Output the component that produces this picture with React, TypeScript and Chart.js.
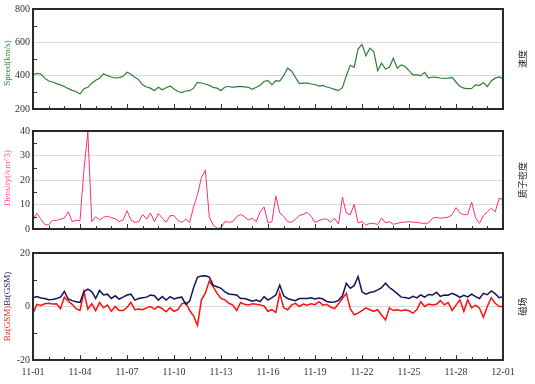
import React, { useEffect, useRef } from "react";
import { Chart, registerables } from "chart.js";
Chart.register(...registerables);

// x axis: days since 11-01, 4 samples per day
const pointsPerDay = 4;
const totalDays = 30;
const dateLabels = ["11-01", "11-04", "11-07", "11-10", "11-13", "11-16", "11-19", "11-22", "11-25", "11-28", "12-01"];

const speed = [
  406, 414, 410, 385, 368, 362, 352, 345, 335, 322, 312, 305, 290, 322, 330, 355,
  372, 385, 412, 400, 392, 386, 388, 396, 420, 408, 390, 375, 345, 332, 325, 310,
  330, 315, 328, 338, 320, 305, 298, 308, 310, 325, 360, 356, 350, 342, 330, 325,
  310, 332, 335, 330, 334, 336, 333, 330, 318, 330, 342, 365, 372, 345, 370, 368,
  400, 445, 428, 390, 352, 355, 355, 350, 347, 337, 342, 332, 326, 318, 310, 328,
  400, 462, 450, 560, 588, 520, 565, 545, 430, 475, 440, 450, 505, 445, 465, 455,
  430, 405, 405, 400, 420, 385, 392, 390, 386, 383, 385, 390, 362, 335, 325, 322,
  324, 345, 342, 358, 335, 368, 385, 392, 382,
];

const density = [
  3.7, 6.4, 4, 1.9, 1.6, 3.5, 3.5, 4, 4.5, 7, 3, 3.6, 3.4, 24, 39.5, 3,
  5, 3.7, 4.8, 5.2, 4.6, 4.2, 3, 3.7, 7.5, 3.7, 2.7, 3, 6, 4, 6.5, 3,
  6.4, 4.4, 2.8, 5.4, 5.5, 3.5, 2.7, 4, 2.7, 9, 14, 21, 24, 5, 1.6, 0.3,
  0.5, 3, 2.8, 3, 5, 6, 5, 3.7, 4.4, 3, 7, 9, 2.5, 3, 13.5, 6.5,
  5.2, 3, 2.7, 4, 5.5, 6, 6.8, 5.2, 2.7, 3.4, 4, 4, 2.8, 4.4, 2, 13,
  6.5, 5.8, 10, 2.5, 3, 1.6, 2.3, 2.3, 1.8, 4.5, 2.5, 3, 1.9, 2.3, 2.7, 2.8,
  3, 2.8, 2.7, 2.4, 2.3, 2.5, 4.4, 4.8, 4.4, 4.6, 4.8, 5.8, 8.7, 6.5, 5.8, 6,
  11, 4.5, 2.3, 5.5, 7, 8.5, 7, 12.5, 12,
];

const bt = [
  3.3, 3.7, 3.2, 3, 2.5, 2.6, 3, 3.5, 5.6, 2.8, 2.2, 1.8, 1.5, 5.6, 6.5, 5.6,
  3, 6, 4.3, 4.6, 3, 4, 2.8, 3.5, 4.3, 4.6, 2.4, 3, 3.3, 3.5, 4.3, 4,
  2.4, 3.7, 2.4, 3.7, 2.8, 3.3, 3.5, 0.8, 2, 7, 11, 11.4, 11.5, 11, 8, 7.4,
  6.8, 5.5, 4.7, 4.5, 4.3, 3, 3, 2.5, 2, 2.4, 1.8, 3.7, 2.4, 3.3, 4.3, 8,
  4, 3, 2.5, 2.2, 3, 3, 3, 3.3, 2.8, 3.2, 2.8, 1.9, 1.6, 1.7, 2.3, 4,
  8.7, 6.8, 7.8, 11.2, 5.5, 4.6, 5.2, 5.5, 6.2, 7, 8.7, 7.1, 6, 4.8, 3.5, 3.4,
  3, 3.8, 3.2, 4.3, 3.5, 4.5, 4.3, 5.3, 3.8, 4.3, 4.2, 4.9, 4.3, 3.4, 4.2, 3.6,
  4.6, 3.7, 3, 4.9, 4.4, 5.8, 4.8, 3.3, 3.7,
];

const bz = [
  -2.5, 0.8, 0.4, 1, 1.2, 0.9, 1, -0.8, 3.5, 2, 0.8, -0.8, -1.5, 5.5, -1, 1.1,
  -1.5, 1.5, -0.5, 0.5, -1.8, 0, -1.5, -1.5, -0.4, 1.5, -1.2, -0.9, -1.2, -0.5, 0, -1,
  0, -0.8, -2, -0.5, -1.8, -1.2, 1, 1.5, -1.5, -3.5, -7, 2.5, 5, 9.5, 7.4, 4.9,
  3, 2.5, 1.2, 0.5, -1.5, 1.5, 0.8, 0.6, 1, 0.8, 0.6, 0.2, -1.8, -1.2, -2.2, 5,
  -0.5, -1.2, 0.5, 1.2, 0, 0.9, 0.5, 1, 0.7, 1.8, 0.5, 0.8, -0.2, -0.8, 1, 3,
  4.9, -0.8, -3.1, -2.5, -1.5, -0.5, -1.2, -1.8, -1.2, -3.2, -5, -0.5, -1.5, -1.2, -1.6, -1.2,
  -1.6, -2.5, -1.2, 1.8, 0, 0.9, 0.6, 0.8, 2.2, 0.6, 1.5, -1.5, 0.5, 2.5, -1.8, 2.5,
  -0.5, 0.5, -0.6, -4, 0, 3.3, 1.2, 0, 0,
];

const FONT = "'Liberation Serif', 'Times New Roman', serif";

const toXY = (arr: number[]) => arr.map((v, i) => ({ x: i / pointsPerDay, y: v }));

type TitlePart = { text: string; color: string };

type PanelCfg = {
  top: number;
  height: number;
  padTop: number;
  xHeight: number;
  yMin: number;
  yMax: number;
  yStep: number;
  yMinor: number[];
  showX: boolean;
  title: TitlePart[];
  titleShift: number;
  side: string;
  datasets: any[];
};

const decoPlugin = {
  id: "deco",
  afterDraw(chart: any, _args: any, opts: any) {
    const { ctx, chartArea } = chart;
    const { left, right, top, bottom } = chartArea;
    const x = chart.scales.x;
    const y = chart.scales.y;
    ctx.save();
    ctx.strokeStyle = "#333";
    ctx.lineWidth = 1;
    // minor y ticks (inward)
    for (const v of opts.yMinor || []) {
      const py = Math.round(y.getPixelForValue(v)) + 0.5;
      ctx.beginPath();
      ctx.moveTo(left, py);
      ctx.lineTo(left + 4, py);
      ctx.stroke();
    }
    // daily x ticks (inward)
    for (let d = 0; d <= totalDays; d++) {
      const px = Math.round(x.getPixelForValue(d)) + 0.5;
      const len = d % 3 === 0 ? 5 : 3;
      ctx.beginPath();
      ctx.moveTo(px, bottom);
      ctx.lineTo(px, bottom - len);
      ctx.stroke();
    }
    // frame
    ctx.lineWidth = 2;
    ctx.strokeStyle = "#2a2a2a";
    ctx.strokeRect(left, top, right - left, bottom - top);
    // left title (rotated)
    const cy = (top + bottom) / 2 + (opts.titleShift || 0);
    ctx.font = `9px ${FONT}`;
    ctx.textBaseline = "middle";
    ctx.textAlign = "left";
    ctx.translate(8, cy);
    ctx.rotate(-Math.PI / 2);
    const parts: TitlePart[] = opts.title || [];
    const total = parts.reduce((s, p) => s + ctx.measureText(p.text).width, 0);
    let cx = -total / 2;
    for (const p of parts) {
      ctx.fillStyle = p.color;
      ctx.fillText(p.text, cx, 0);
      cx += ctx.measureText(p.text).width;
    }
    ctx.restore();
    // right label
    ctx.save();
    ctx.font = `9px 'Noto Sans CJK SC', sans-serif`;
    ctx.fillStyle = "#222";
    ctx.textAlign = "center";
    ctx.textBaseline = "middle";
    ctx.translate(523, (top + bottom) / 2);
    ctx.rotate(-Math.PI / 2);
    ctx.fillText(opts.side || "", 0, 0);
    ctx.restore();
  },
};

function Panel({ cfg }: { cfg: PanelCfg }) {
  const ref = useRef<HTMLCanvasElement | null>(null);
  useEffect(() => {
    if (!ref.current) return;
    const chart = new Chart(ref.current, {
      type: "line",
      data: { datasets: cfg.datasets },
      options: {
        animation: false,
        responsive: false,
        devicePixelRatio: 1,
        layout: { padding: { top: cfg.padTop, right: 32, left: 0, bottom: 0 } },
        plugins: {
          legend: { display: false },
          tooltip: { enabled: false },
          deco: { yMinor: cfg.yMinor, title: cfg.title, side: cfg.side, titleShift: cfg.titleShift },
        } as any,
        elements: { point: { radius: 0 }, line: { tension: 0 } },
        scales: {
          x: {
            type: "linear",
            min: 0,
            max: totalDays,
            afterFit: (s: any) => {
              s.height = cfg.xHeight;
            },
            grid: { display: false, drawTicks: false },
            border: { display: false },
            ticks: {
              display: cfg.showX,
              stepSize: 3,
              autoSkip: false,
              maxRotation: 0,
              padding: 6,
              color: "#333",
              font: { family: FONT, size: 10 },
              callback: (v: any) => dateLabels[Math.round(Number(v) / 3)] ?? "",
            },
          },
          y: {
            min: cfg.yMin,
            max: cfg.yMax,
            afterFit: (s: any) => {
              s.width = 33;
            },
            grid: {
              drawTicks: false,
              color: (c: any) =>
                c.tick && (c.tick.value === cfg.yMin || c.tick.value === cfg.yMax) ? "rgba(0,0,0,0)" : "#d9d9d9",
              lineWidth: 1,
            },
            border: { display: false },
            ticks: {
              stepSize: cfg.yStep,
              padding: 3,
              color: "#333",
              font: { family: FONT, size: 10 },
            },
          },
        },
      },
      plugins: [decoPlugin],
    });
    return () => chart.destroy();
  }, [cfg]);
  return (
    <canvas
      ref={ref}
      width={535}
      height={cfg.height}
      style={{ position: "absolute", left: 0, top: cfg.top, width: 535, height: cfg.height }}
    />
  );
}

const panels: PanelCfg[] = [
  {
    top: 0,
    height: 120,
    padTop: 7,
    xHeight: 11,
    yMin: 200,
    yMax: 800,
    yStep: 200,
    yMinor: [300, 500, 700],
    showX: false,
    title: [{ text: "Speed(km/s)", color: "#2e8b3e" }],
    titleShift: 4,
    side: "速度",
    datasets: [
      { data: toXY(speed), borderColor: "#2f7f3a", borderWidth: 1.2, pointRadius: 0, fill: false },
    ],
  },
  {
    top: 120,
    height: 120,
    padTop: 11,
    xHeight: 11,
    yMin: 0,
    yMax: 40,
    yStep: 10,
    yMinor: [5, 15, 25, 35],
    showX: false,
    title: [{ text: "Density(/cm^3)", color: "#ff4f8b" }],
    titleShift: -2,
    side: "质子密度",
    datasets: [
      { data: toXY(density), borderColor: "#ff2f78", borderWidth: 1, pointRadius: 0, fill: false },
    ],
  },
  {
    top: 240,
    height: 144,
    padTop: 13,
    xHeight: 24,
    yMin: -20,
    yMax: 20,
    yStep: 20,
    yMinor: [-10, 10],
    showX: true,
    title: [
      { text: "Bz(GSM)", color: "#ff2020" },
      { text: "Bt(GSM)", color: "#1a1a5a" },
    ],
    titleShift: 0,
    side: "磁场",
    datasets: [
      { data: toXY(bt), borderColor: "#14145a", borderWidth: 1.5, pointRadius: 0, fill: false },
      { data: toXY(bz), borderColor: "#ff1010", borderWidth: 1.5, pointRadius: 0, fill: false },
    ],
  },
];

export default function App() {
  return (
    <div style={{ position: "absolute", left: 0, top: 0, width: 535, height: 384, background: "#fff" }}>
      {panels.map((p, i) => (
        <Panel key={i} cfg={p} />
      ))}
    </div>
  );
}
